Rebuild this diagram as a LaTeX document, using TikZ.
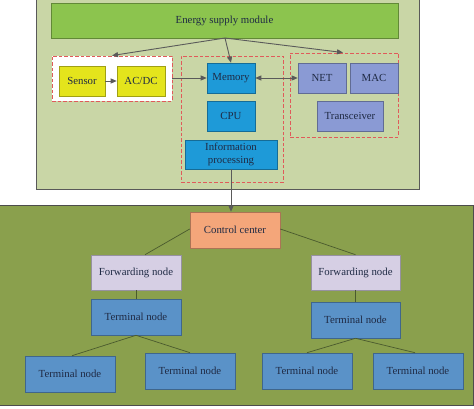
\documentclass[tikz,border=0pt]{standalone}
\usepackage{fontspec}
\setmainfont{Liberation Serif}
\usetikzlibrary{arrows.meta}
\definecolor{toppanel}{HTML}{C9D6A6}
\definecolor{botpanel}{HTML}{8AA04D}
\definecolor{energy}{HTML}{8CC44E}
\definecolor{yel}{HTML}{E4E41C}
\definecolor{cyanb}{HTML}{1E9AD8}
\definecolor{purp}{HTML}{8A9AD4}
\definecolor{orng}{HTML}{F4A67A}
\definecolor{lav}{HTML}{D6CFE4}
\definecolor{termb}{HTML}{5A92C8}
\definecolor{txt}{HTML}{1F2A44}
\definecolor{dashred}{HTML}{E05A5A}
\definecolor{conn}{HTML}{5A5A5A}
\definecolor{conn2}{HTML}{4A5A2E}
\tikzset{
  box/.style={draw=#1!70!black, line width=0.6pt, inner sep=0pt, text=txt, align=center, font=\fontsize{10.8}{13}\selectfont},
  dbox/.style={draw=dashred, dashed, line width=0.9pt, dash pattern=on 3.5pt off 2pt},
  arr/.style={draw=conn, line width=0.9pt, -{Triangle[length=6pt,width=5pt]}},
  darr/.style={draw=conn, line width=0.9pt, {Triangle[length=6pt,width=5pt]}-{Triangle[length=6pt,width=5pt]}},
  ln/.style={draw=conn2, line width=0.7pt},
}
\begin{document}
\begin{tikzpicture}[x=1pt,y=-1pt]
\useasboundingbox (0,0) rectangle (474,409);
\fill[white] (0,0) rectangle (474,409);
% panels
\node[draw=gray!70!black, fill=toppanel, line width=0.6pt, minimum width=383pt, minimum height=192pt, inner sep=0pt] (top) at (227.5,93) {};
\node[draw=gray!60!black, fill=botpanel, line width=0.6pt, minimum width=474pt, minimum height=200pt, inner sep=0pt] (bot) at (236,305) {};
% energy
\node[box=energy, fill=energy, minimum width=347pt, minimum height=35pt] (energy) at (224.5,20.5) {Energy supply module};
% dashed groups
\node[dbox, fill=white, minimum width=120pt, minimum height=45pt, inner sep=0pt] (g1) at (112,78.5) {};
\node[dbox, minimum width=102pt, minimum height=126pt, inner sep=0pt] (g2) at (232,119) {};
\node[dbox, minimum width=108pt, minimum height=84pt, inner sep=0pt] (g3) at (344,95) {};
% components
\node[box=yel, fill=yel, minimum width=46pt, minimum height=30pt] (sensor) at (82,81) {Sensor};
\node[box=yel, fill=yel, minimum width=48pt, minimum height=30pt] (acdc) at (141,81) {AC/DC};
\node[box=cyanb, fill=cyanb, minimum width=48pt, minimum height=30pt] (mem) at (231,78) {Memory};
\node[box=cyanb, fill=cyanb, minimum width=48pt, minimum height=30pt] (cpu) at (231,116) {CPU};
\node[box=cyanb, fill=cyanb, minimum width=92pt, minimum height=29pt] (info) at (231,154.5) {Information\\processing};
\node[box=purp, fill=purp, minimum width=48pt, minimum height=30pt] (net) at (322,78) {NET};
\node[box=purp, fill=purp, minimum width=48pt, minimum height=30pt] (mac) at (374,78) {MAC};
\node[box=purp, fill=purp, minimum width=66pt, minimum height=30pt] (trx) at (350,116) {Transceiver};
% bottom tree
\node[box=orng, fill=orng, minimum width=90pt, minimum height=36pt] (cc) at (235,230) {Control center};
\node[box=lav, fill=lav, minimum width=90pt, minimum height=35pt] (fl) at (136,272.5) {Forwarding node};
\node[box=lav, fill=lav, minimum width=89pt, minimum height=35pt] (fr) at (355.5,272.5) {Forwarding node};
\node[box=termb, fill=termb, minimum width=90pt, minimum height=36pt] (tl) at (136,317) {Terminal node};
\node[box=termb, fill=termb, minimum width=89pt, minimum height=36pt] (tr) at (355.5,320) {Terminal node};
\node[box=termb, fill=termb, minimum width=90pt, minimum height=36pt] (t1) at (70,374) {Terminal node};
\node[box=termb, fill=termb, minimum width=90pt, minimum height=36pt] (t2) at (190,371) {Terminal node};
\node[box=termb, fill=termb, minimum width=90pt, minimum height=36pt] (t3) at (307,371) {Terminal node};
\node[box=termb, fill=termb, minimum width=90pt, minimum height=36pt] (t4) at (418,371) {Terminal node};
% top arrows
\coordinate (es) at (225,38);
\draw[arr] (es) -- (g1.north);
\draw[arr] (es) -- (mem.north);
\draw[arr] (es) -- ([xshift=-1pt]g3.north);
\draw[arr] (sensor) -- (acdc);
\draw[arr] (g1.east |- mem.west) -- (mem.west);
\draw[darr] (mem.east) -- (net.west);
\draw[arr] (info.south) -- (info.south |- cc.north);
% tree lines
\draw[ln] ([yshift=1pt]cc.west) -- ([xshift=9pt]fl.north);
\draw[ln] ([yshift=1pt]cc.east) -- (fr.north);
\draw[ln] (fl) -- (tl);
\draw[ln] (fr) -- (tr);
\draw[ln] (tl.south) -- ([xshift=2pt]t1.north);
\draw[ln] (tl.south) -- (t2.north);
\draw[ln] (tr.south) -- (t3.north);
\draw[ln] (tr.south) -- ([xshift=-3pt]t4.north);
\end{tikzpicture}
\end{document}
